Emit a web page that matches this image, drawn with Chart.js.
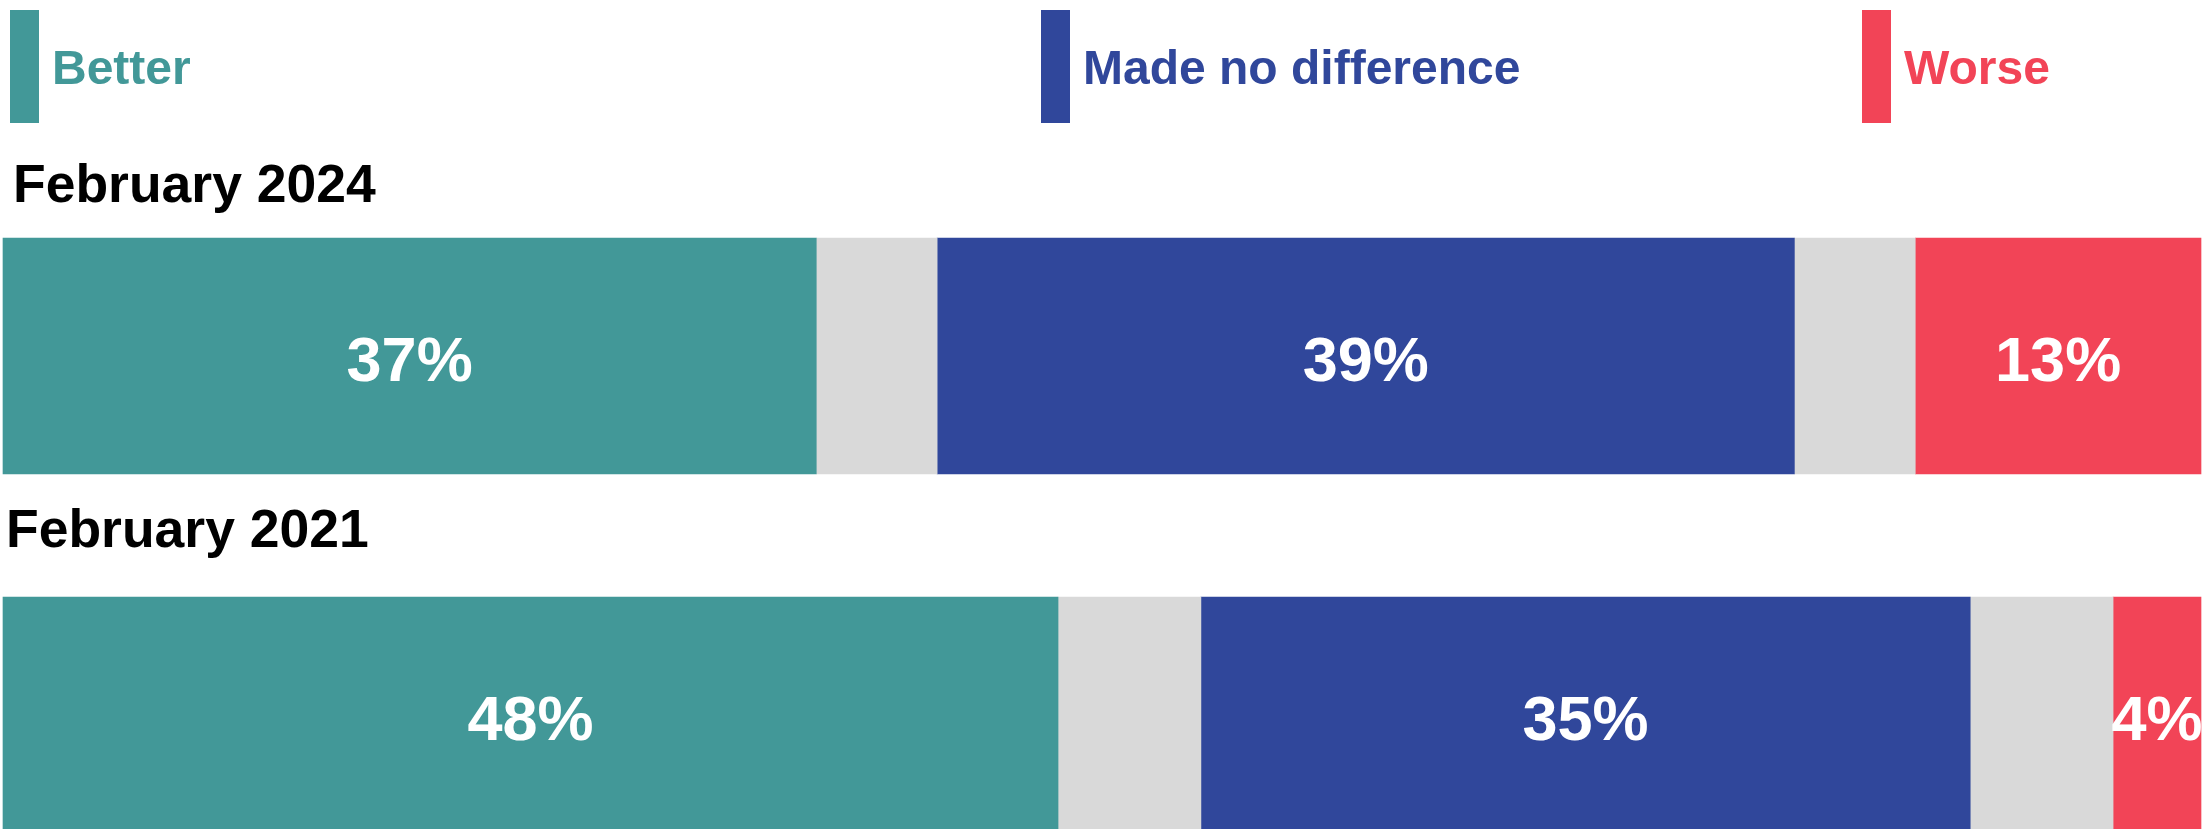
<!DOCTYPE html>
<html>
<head>
<meta charset="utf-8">
<script src="https://cdn.jsdelivr.net/npm/chart.js@4/dist/chart.umd.min.js"></script>
<style>
  html, body { margin: 0; padding: 0; background: #ffffff; }
  #wrap { width: 2202px; height: 829px; }
</style>
</head>
<body>
<div id="wrap"><canvas id="chartInformation" width="2202" height="829"></canvas></div>
<script>
// values
const rows = ["February 2024", "February 2021"];
const better = [37, 48];
const noDifference = [39, 35];
const worse = [13, 4];
// grey blocks between the coloured ones (no label in the picture)
const gapLeft = [5.5, 6.5];
const gapRight = [5.5, 6.5];

const FONT = "'Liberation Sans', Arial, sans-serif";
const TEAL = "#429898";
const BLUE = "#30479b";
const RED = "#f24457";
const GREY = "#d9d9d9";

// legend at the top: tall swatch + coloured text
const topLegend = {
  id: "topLegend",
  afterDraw(chart) {
    const ctx = chart.ctx;
    const xs = [10, 1041, 1862];
    const items = chart.data.datasets.filter((d) => d.label);
    ctx.save();
    ctx.font = "bold 48px " + FONT;
    ctx.textBaseline = "alphabetic";
    ctx.textAlign = "left";
    items.forEach((ds, i) => {
      ctx.fillStyle = ds.backgroundColor;
      ctx.fillRect(xs[i], 10, 29, 113);
      ctx.fillText(ds.label, xs[i] + 42, 84);
    });
    ctx.restore();
  },
};

// row titles sit above each bar
const rowTitles = {
  id: "rowTitles",
  afterDraw(chart) {
    const ctx = chart.ctx;
    const meta = chart.getDatasetMeta(0);
    const xs = [13, 6];
    const lift = [36, 50];
    ctx.save();
    ctx.font = "bold 53.5px " + FONT;
    ctx.fillStyle = "#000000";
    ctx.textAlign = "left";
    ctx.textBaseline = "alphabetic";
    meta.data.forEach((bar, i) => {
      const top = bar.y - bar.height / 2;
      ctx.fillText(chart.data.labels[i], xs[i], top - lift[i]);
    });
    ctx.restore();
  },
};

// percentage in the middle of each coloured block
const barValues = {
  id: "barValues",
  afterDatasetsDraw(chart) {
    const ctx = chart.ctx;
    ctx.save();
    ctx.font = "bold 63px " + FONT;
    ctx.fillStyle = "#ffffff";
    ctx.textAlign = "center";
    ctx.textBaseline = "alphabetic";
    chart.data.datasets.forEach((ds, di) => {
      if (!ds.label) return;
      const meta = chart.getDatasetMeta(di);
      meta.data.forEach((bar, i) => {
        const p = bar.getCenterPoint();
        ctx.fillText(ds.data[i] + "%", p.x, p.y + 25);
      });
    });
    ctx.restore();
  },
};

const chart = new Chart("chartInformation", {
  type: "bar",
  data: {
    labels: rows,
    datasets: [
      { label: "Better", data: better, backgroundColor: TEAL },
      { label: "", data: gapLeft, backgroundColor: GREY },
      { label: "Made no difference", data: noDifference, backgroundColor: BLUE },
      { label: "", data: gapRight, backgroundColor: GREY },
      { label: "Worse", data: worse, backgroundColor: RED },
    ],
  },
  options: {
    indexAxis: "y",
    responsive: false,
    animation: false,
    devicePixelRatio: 1,
    layout: {
      padding: { top: 356, bottom: 114, left: 3, right: 1 },
    },
    datasets: {
      bar: { barThickness: 236, borderWidth: 0, clip: false },
    },
    scales: {
      x: { stacked: true, min: 0, max: 100, display: false },
      y: { stacked: true, offset: false, display: false },
    },
    plugins: {
      legend: { display: false },
      tooltip: { enabled: false },
    },
  },
  plugins: [topLegend, rowTitles, barValues],
});
</script>
</body>
</html>
